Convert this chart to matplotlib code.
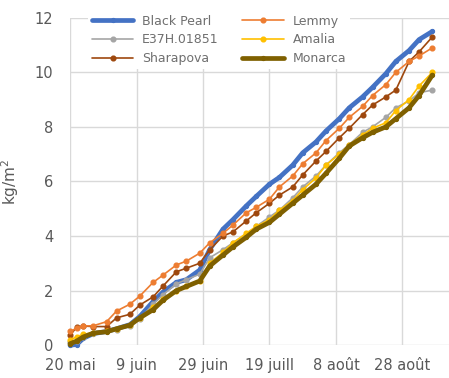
import matplotlib
matplotlib.use("Agg")
import matplotlib.pyplot as plt

days = [0, 2, 4, 7, 11, 14, 18, 21, 25, 28, 32, 35, 39, 42, 46, 49, 53, 56, 60, 63,
        67, 70, 74, 77, 81, 84, 88, 91, 95, 98, 102, 105, 109]

black_pearl = [0.0, 0.02, 0.25, 0.42, 0.5, 0.6, 0.75, 1.05, 1.6, 1.95, 2.3, 2.4, 2.75, 3.5,
               4.25, 4.6, 5.1, 5.45, 5.9, 6.15, 6.6, 7.05, 7.45, 7.85, 8.3, 8.7, 9.1, 9.45,
               9.95, 10.4, 10.8, 11.2, 11.5]
e37h = [0.1, 0.15, 0.3, 0.45, 0.5, 0.55, 0.7, 0.95, 1.5, 1.85, 2.25, 2.4, 2.6, 3.2,
        3.5, 3.75, 4.05, 4.35, 4.7, 4.95, 5.4, 5.8, 6.2, 6.6, 7.05, 7.35, 7.8, 8.0,
        8.35, 8.7, 8.95, 9.25, 9.35]
sharapova = [0.37, 0.65, 0.7, 0.68, 0.68, 1.0, 1.13, 1.47, 1.77, 2.17, 2.69, 2.82, 3.0, 3.49,
             4.0, 4.15, 4.55, 4.85, 5.2, 5.5, 5.8, 6.24, 6.75, 7.1, 7.6, 7.95, 8.45, 8.8,
             9.1, 9.35, 10.4, 10.75, 11.3]
lemmy = [0.5, 0.62, 0.7, 0.71, 0.86, 1.25, 1.5, 1.8, 2.3, 2.57, 2.94, 3.08, 3.37, 3.75,
         4.1, 4.4, 4.85, 5.05, 5.35, 5.8, 6.2, 6.65, 7.05, 7.5, 7.95, 8.35, 8.75, 9.15,
         9.55, 10.0, 10.4, 10.6, 10.9]
amalia = [0.2, 0.3, 0.4, 0.45, 0.5, 0.6, 0.75, 1.0, 1.4, 1.7, 2.0, 2.15, 2.35, 3.0,
          3.4, 3.75, 4.1, 4.35, 4.6, 4.95, 5.3, 5.7, 6.13, 6.6, 7.0, 7.35, 7.7, 7.95,
          8.15, 8.6, 9.0, 9.5, 10.0]
monarca = [0.05, 0.15, 0.3, 0.44, 0.49, 0.6, 0.73, 1.0, 1.3, 1.65, 2.0, 2.15, 2.35, 2.9,
           3.3, 3.6, 3.95, 4.25, 4.5, 4.8, 5.2, 5.5, 5.9, 6.3, 6.85, 7.3, 7.6, 7.8,
           8.0, 8.3, 8.7, 9.15, 9.9]

series_names = ["Black Pearl", "E37H.01851", "Sharapova", "Lemmy", "Amalia", "Monarca"]
series_values = [black_pearl, e37h, sharapova, lemmy, amalia, monarca]
colors = ["#4472C4", "#A5A5A5", "#9E480E", "#ED7D31", "#FFC000", "#7F6000"]
widths = [3.4, 1.2, 1.2, 1.2, 1.2, 3.4]
msizes = [2.8, 3.4, 3.4, 3.4, 3.4, 2.8]

tick_days = [0, 20, 40, 60, 80, 100]
tick_labels = ["20 mai", "9 juin", "29 juin", "19 juill", "8 août", "28 août"]
y_ticks = [0, 2, 4, 6, 8, 10, 12]

plt.rcParams['font.family'] = ['DejaVu Sans']
text_color = "#595959"

fig = plt.figure(figsize=(4.49, 3.78), dpi=100)
ax = fig.add_axes([0.156, 0.087, 0.844, 0.866])

for name, vals, c, lw, ms in zip(series_names, series_values, colors, widths, msizes):
    ax.plot(days, vals, color=c, lw=lw, marker='o', markersize=ms, label=name,
            solid_capstyle='round', clip_on=False)

ax.set_xlim(0, 114)
ax.set_ylim(0, 12)
ax.set_xticks(tick_days)
ax.set_xticklabels(tick_labels)
ax.set_yticks(y_ticks)
ax.grid(True, color="#D9D9D9", lw=1.0)
ax.set_axisbelow(True)
for s in ax.spines.values():
    s.set_visible(False)
ax.tick_params(length=0, colors=text_color, labelsize=10.5)
ax.tick_params(axis='x', pad=9)
ax.tick_params(axis='y', pad=12)
ax.set_ylabel("kg/m$^2$", color=text_color, fontsize=11, labelpad=10)

leg = ax.legend(ncol=2, loc='upper left', bbox_to_anchor=(0.04, 1.03), frameon=True,
                fontsize=9, handlelength=3.3, handletextpad=0.7, columnspacing=1.9,
                labelspacing=0.45, borderaxespad=0.2, borderpad=0.35)
leg.get_frame().set_facecolor('white')
leg.get_frame().set_edgecolor('none')
leg.get_frame().set_alpha(1.0)
for t in leg.get_texts():
    t.set_color("#6f6f6f")

fig.savefig("out.png", dpi=100)
